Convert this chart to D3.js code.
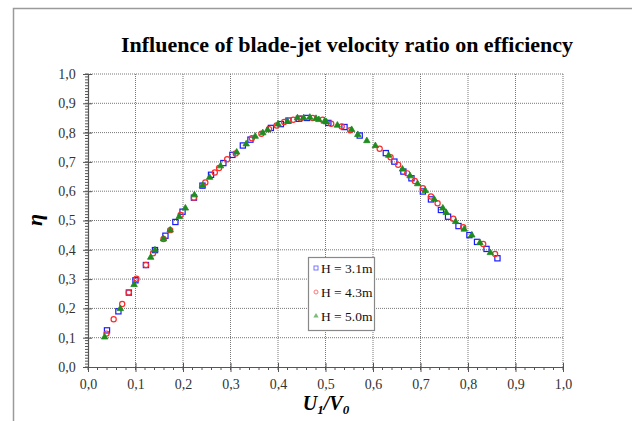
<!DOCTYPE html>
<html><head><meta charset="utf-8">
<script src="https://cdn.jsdelivr.net/npm/d3@7"></script>
<style>html,body{margin:0;padding:0;background:#fff;}svg{display:block;}</style>
</head><body>
<svg id="chart" width="632" height="421"></svg>
<script>
const titleText = "Influence of blade-jet velocity ratio on efficiency";
const seriesNames = ["H = 3.1m", "H = 4.3m", "H = 5.0m"];
const xTicks = [0,0.1,0.2,0.3,0.4,0.5,0.6,0.7,0.8,0.9,1.0];
const yTicks = [0,0.1,0.2,0.3,0.4,0.5,0.6,0.7,0.8,0.9,1.0];

const uH31 = [0.040,0.064,0.086,0.100,0.122,0.141,0.163,0.184,0.199,0.223,0.241,0.259,0.285,0.304,0.326,0.342,0.385,0.406,0.422,0.444,0.461,0.506,0.540,0.572,0.627,0.645,0.664,0.681,0.705,0.722,0.743,0.758,0.780,0.803,0.819,0.839,0.862];
const eH31 = [0.125,0.190,0.254,0.296,0.348,0.399,0.448,0.495,0.530,0.578,0.619,0.656,0.696,0.724,0.756,0.776,0.816,0.829,0.841,0.847,0.850,0.833,0.819,0.790,0.730,0.701,0.667,0.644,0.599,0.572,0.536,0.513,0.481,0.450,0.427,0.403,0.371];

const uH43 = [0.039,0.054,0.072,0.086,0.102,0.122,0.137,0.159,0.173,0.195,0.223,0.247,0.267,0.276,0.293,0.311,0.345,0.365,0.381,0.397,0.413,0.432,0.448,0.473,0.494,0.512,0.534,0.552,0.614,0.637,0.653,0.672,0.688,0.705,0.722,0.736,0.769,0.790,0.832,0.857];
const eH43 = [0.114,0.163,0.215,0.254,0.301,0.348,0.388,0.437,0.467,0.519,0.578,0.630,0.664,0.679,0.709,0.729,0.781,0.796,0.812,0.824,0.836,0.844,0.848,0.850,0.844,0.830,0.821,0.808,0.745,0.716,0.690,0.661,0.635,0.610,0.582,0.559,0.506,0.477,0.420,0.386];

const uH50 = [0.035,0.068,0.097,0.132,0.141,0.159,0.173,0.192,0.205,0.224,0.241,0.256,0.279,0.313,0.333,0.352,0.368,0.378,0.400,0.420,0.441,0.454,0.467,0.480,0.486,0.498,0.502,0.525,0.555,0.568,0.587,0.605,0.633,0.662,0.678,0.694,0.710,0.729,0.747,0.754,0.774,0.792,0.808,0.825,0.847];
const eH50 = [0.102,0.199,0.281,0.374,0.399,0.437,0.467,0.513,0.542,0.587,0.619,0.647,0.686,0.733,0.761,0.787,0.799,0.809,0.829,0.838,0.850,0.850,0.852,0.848,0.844,0.838,0.836,0.825,0.810,0.793,0.772,0.755,0.722,0.675,0.652,0.625,0.602,0.572,0.542,0.527,0.496,0.470,0.450,0.424,0.390];

const svg = d3.select("#chart");
const L = 88, R = 563, T = 74, B = 367;
const x = d3.scaleLinear().domain([0,1]).range([L,R]);
const y = d3.scaleLinear().domain([0,1]).range([B,T]);
const serif = "'Liberation Serif','Times New Roman',serif";

// outer frame
svg.append("rect").attr("x",13.5).attr("y",8.5).attr("width",640).attr("height",440)
  .attr("fill","none").attr("stroke","#9a9a9a").attr("stroke-width",1.5);

// title
svg.append("text").attr("x",347).attr("y",52).attr("text-anchor","middle")
  .attr("font-family",serif).attr("font-weight","bold").attr("font-size",22)
  .attr("fill","#000").text(titleText);

// grid
const grid = svg.append("g");
grid.selectAll(".gx").data(xTicks.slice(1)).join("line")
  .attr("x1",d=>x(d)).attr("x2",d=>x(d)).attr("y1",T).attr("y2",B)
  .attr("stroke","#777").attr("stroke-width",1).attr("stroke-dasharray","1,1");
grid.selectAll(".gy").data(yTicks.slice(1)).join("line")
  .attr("x1",L).attr("x2",R).attr("y1",d=>y(d)).attr("y2",d=>y(d))
  .attr("stroke","#777").attr("stroke-width",1).attr("stroke-dasharray","1,1");

// axes
const fmt = d => d3.format(".1f")(d).replace(".", ",");
const xAxis = d3.axisBottom(x).tickValues(xTicks).tickFormat(fmt).tickSizeInner(5).tickSizeOuter(0);
const gx = svg.append("g").attr("transform",`translate(0,${B})`).call(xAxis);
const yAxis = d3.axisLeft(y).tickValues(yTicks).tickFormat(fmt).tickSizeInner(5).tickSizeOuter(0);
const gy = svg.append("g").attr("transform",`translate(${L},0)`).call(yAxis);
[gx,gy].forEach(g=>{
  g.attr("font-family",serif).attr("font-size",14);
  g.select(".domain").attr("stroke","#555").attr("stroke-width",1.2);
  g.selectAll(".tick line").attr("stroke","#555");
  g.selectAll(".tick text").attr("font-family",serif).attr("font-size",14).attr("fill","#333");
});
gx.selectAll(".tick line").attr("y1",-4);
gx.selectAll(".tick text").attr("dy","1.0em");
gy.selectAll(".tick line").attr("x1",4);
gy.selectAll(".tick text").attr("dx","-0.3em");
// minor ticks
const xMinor = d3.range(0,1.0001,0.02);
svg.append("g").selectAll("line").data(xMinor).join("line")
  .attr("x1",d=>x(d)).attr("x2",d=>x(d)).attr("y1",B).attr("y2",B+3)
  .attr("stroke","#555").attr("stroke-width",1);
const yMinor = d3.range(0,1.0001,0.01);
svg.append("g").selectAll("line").data(yMinor).join("line")
  .attr("x1",L-3).attr("x2",L).attr("y1",d=>y(d)).attr("y2",d=>y(d))
  .attr("stroke","#555").attr("stroke-width",1);

// axis titles
const xt = svg.append("text").attr("x",326).attr("y",410).attr("text-anchor","middle")
  .attr("font-family",serif).attr("font-weight","bold").attr("font-style","italic").attr("font-size",20).attr("fill","#000");
xt.append("tspan").text("U");
xt.append("tspan").attr("font-size",13).attr("dy",4).text("1");
xt.append("tspan").attr("dy",-4).text("/V");
xt.append("tspan").attr("font-size",13).attr("dy",4).text("0");
svg.append("text").attr("transform","translate(42,220) rotate(-90)").attr("text-anchor","middle")
  .attr("font-family",serif).attr("font-weight","bold").attr("font-style","italic").attr("font-size",22)
  .attr("fill","#000").text("η");

// series
const pts = (u,e)=>u.map((v,i)=>({u:v,e:e[i]}));
const blue="#1a1aff", red="#ff2a2a", green="#1e8c1e";
const plot = svg.append("g");
plot.append("g").selectAll("rect").data(pts(uH31,eH31)).join("rect")
  .attr("x",d=>x(d.u)-2.6).attr("y",d=>y(d.e)-2.6).attr("width",5.2).attr("height",5.2)
  .attr("fill","none").attr("stroke",blue).attr("stroke-width",1.2);
plot.append("g").selectAll("circle").data(pts(uH43,eH43)).join("circle")
  .attr("cx",d=>x(d.u)).attr("cy",d=>y(d.e)).attr("r",2.6)
  .attr("fill","none").attr("stroke",red).attr("stroke-width",1.2);
const tri = d3.symbol().type(d3.symbolTriangle).size(18);
plot.append("g").selectAll("path").data(pts(uH50,eH50)).join("path")
  .attr("d",tri).attr("transform",d=>`translate(${x(d.u)},${y(d.e)})`)
  .attr("fill",green).attr("stroke",green).attr("stroke-width",0.8);

// legend
const lg = svg.append("g");
lg.append("rect").attr("x",308.5).attr("y",257.5).attr("width",66).attr("height",73)
  .attr("fill","#fff").attr("stroke","#888").attr("stroke-width",1.2);
const rows = [268,292,316];
lg.append("rect").attr("x",314).attr("y",rows[0]-2).attr("width",4).attr("height",4)
  .attr("fill","none").attr("stroke","#7777ff").attr("stroke-width",1);
lg.append("circle").attr("cx",316).attr("cy",rows[1]).attr("r",2)
  .attr("fill","none").attr("stroke","#ff7777").attr("stroke-width",1);
lg.append("path").attr("d",d3.symbol().type(d3.symbolTriangle).size(12)).attr("transform",`translate(316,${rows[2]})`)
  .attr("fill","#77bb77");
lg.selectAll("text").data(seriesNames).join("text")
  .attr("x",321).attr("y",(d,i)=>rows[i]+4.5).attr("font-family",serif).attr("font-size",13.5)
  .attr("fill","#111").text(d=>d);
</script>
</body></html>
